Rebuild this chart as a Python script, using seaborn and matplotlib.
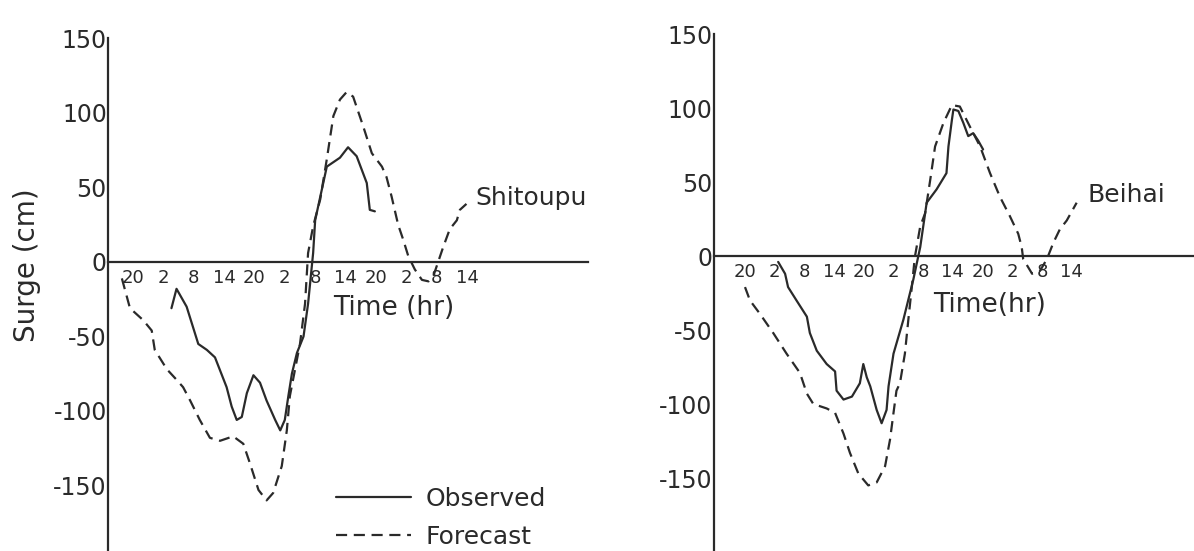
import matplotlib
matplotlib.use("Agg")
import matplotlib.pyplot as plt
import pandas as pd
import seaborn as sns

# ---------------- data (time in hours from 20h of day 0, surge in cm) -------------
tick_hours = [0, 6, 12, 18, 24, 30, 36, 42, 48, 54, 60, 66]
tick_labels = ["20", "2", "8", "14", "20", "2", "8", "14", "20", "2", "8", "14"]
y_ticks = [-150, -100, -50, 0, 50, 100, 150]
y_tick_labels = ["-150", "-100", "-50", "0", "50", "100", "150"]

shi_obs_t = [7.6, 8.6, 10.6, 12.9, 14.6, 16.2, 18.5, 19.5, 20.5, 21.5, 22.5, 23.8,
             25.1, 26.4, 28.1, 29.1, 30.0, 30.7, 31.4, 32.4, 33.7, 34.6, 35.6, 36.0,
             38.3, 40.9, 42.5, 44.2, 46.2, 46.8, 47.8]
shi_obs_v = [-31, -18, -30, -55, -59, -64, -84, -97, -106, -104, -88, -76,
             -81, -93, -106, -113, -106, -90, -75, -61, -50, -28, 6, 28,
             64, 70, 77, 71, 53, 35, 34]

shi_fc_t = [-2.2, -0.6, 2.0, 3.7, 4.3, 6.7, 8.6, 9.9, 11.3, 13.2, 15.2, 17.2, 19.8,
            21.8, 23.1, 24.8, 26.4, 27.7, 29.4, 30.4, 31.0, 33.0, 34.0, 34.6, 35.6,
            37.0, 38.3, 39.6, 40.9, 42.2, 43.5, 45.5, 47.2, 49.2, 50.1, 51.1, 52.4,
            53.4, 54.4, 55.7, 57.1, 58.4, 59.4, 60.3, 61.3, 62.6, 64.0, 64.6, 65.9]
shi_fc_v = [-11, -31, -39, -46, -59, -72, -79, -84, -93, -106, -118, -120, -117,
            -122, -135, -153, -160, -155, -137, -113, -90, -55, -28, 6, 24,
            42, 69, 98, 109, 114, 111, 91, 73, 64, 57, 44, 25,
            15, 4, -5, -12, -13, -9, 0, 10, 22, 28, 35, 39]

bei_obs_t = [6.7, 8.1, 8.7, 10.4, 12.5, 13.1, 14.5, 16.5, 18.2, 18.5, 19.9, 21.6,
             23.2, 23.9, 24.6, 25.3, 26.6, 27.6, 28.6, 29.0, 30.0, 32.0, 34.0, 35.4,
             36.7, 38.7, 40.7, 41.1, 41.8, 42.1, 43.1, 44.1, 45.1, 46.1, 47.1, 48.1]
bei_obs_v = [-4, -12, -21, -30, -41, -52, -64, -73, -78, -91, -97, -95,
             -86, -73, -82, -88, -104, -113, -104, -88, -66, -43, -16, 6,
             36, 45, 56, 74, 92, 99, 98, 90, 81, 83, 78, 72]

bei_fc_t = [0, 1.0, 3.0, 5.7, 8.4, 11.1, 12.5, 13.8, 16.5, 18.2, 19.9, 21.2, 22.9,
            24.9, 26.6, 28.3, 29.3, 30.0, 30.6, 31.3, 32.3, 33.0, 33.7, 34.3, 35.4,
            36.4, 37.4, 38.4, 40.1, 41.8, 43.4, 45.5, 47.5, 49.5, 51.5, 53.5, 55.2,
            55.9, 56.2, 58.0, 59.6, 61.0, 62.3, 63.6, 65.0, 67.0]
bei_fc_v = [-21, -30, -39, -52, -66, -79, -93, -100, -103, -106, -120, -133, -147,
            -155, -153, -142, -124, -106, -91, -86, -66, -43, -21, -1, 20,
            29, 51, 74, 90, 102, 101, 87, 74, 56, 40, 27, 15,
            6, -2, -12, -10, -2, 9, 18, 24, 36]

# ---------------- style ----------------
W, H = 1194, 551
sns.set_style("white")
plt.rcParams['font.family'] = ['DejaVu Sans']
plt.rcParams['axes.unicode_minus'] = False
INK = '#2a2a2a'
LW = 1.6

fig = plt.figure(figsize=(W / 100, H / 100), dpi=100)


def make_axes(x0, sx, y0, sy, xlim, ylim):
    left = (x0 + sx * xlim[0]) / W
    width = sx * (xlim[1] - xlim[0]) / W
    bottom = (H - (y0 - sy * ylim[0])) / H
    height = sy * (ylim[1] - ylim[0]) / H
    ax = fig.add_axes([left, bottom, width, height])
    ax.set_xlim(*xlim)
    ax.set_ylim(*ylim)
    ax.patch.set_alpha(0)
    return ax


def style_axes(ax, yaxis_t, xaxis_end, ybottom, yticks, ylabels):
    for s in ['top', 'right']:
        ax.spines[s].set_visible(False)
    ax.spines['left'].set_position(('data', yaxis_t))
    ax.spines['left'].set_bounds(ybottom, 150)
    ax.spines['bottom'].set_position(('data', 0))
    ax.spines['bottom'].set_bounds(yaxis_t, xaxis_end)
    for s in ['left', 'bottom']:
        ax.spines[s].set_color(INK)
        ax.spines[s].set_linewidth(1.6)
    ax.set_xticks(tick_hours)
    ax.set_xticklabels(tick_labels, fontsize=13, color=INK)
    ax.set_yticks(yticks)
    ax.set_yticklabels(ylabels, fontsize=17, color=INK)
    ax.tick_params(axis='x', direction='in', length=10, width=1.5, color=INK, pad=5)
    ax.tick_params(axis='y', direction='in', length=8, width=1.5, color=INK, pad=1)
    ax.set_xlabel("")
    ax.set_ylabel("")


def draw(ax, ot, ov, ft, fv, labels=False):
    obs = pd.DataFrame({"t": ot, "v": ov})
    fc = pd.DataFrame({"t": ft, "v": fv})
    kw_o = dict(label="Observed") if labels else {}
    kw_f = dict(label="Forecast") if labels else {}
    sns.lineplot(data=obs, x="t", y="v", ax=ax, color=INK, lw=LW,
                 sort=False, estimator=None, **kw_o)
    sns.lineplot(data=fc, x="t", y="v", ax=ax, color=INK, lw=LW,
                 sort=False, estimator=None, **kw_f)
    ax.lines[-1].set_dashes((5, 3))
    if ax.get_legend() is not None:
        ax.get_legend().remove()


# ---------------- left panel: Shitoupu ----------------
axL = make_axes(133, 5.06, 262, 1.49, (-8, 92), (-196, 155))
draw(axL, shi_obs_t, shi_obs_v, shi_fc_t, shi_fc_v, labels=True)
style_axes(axL, -4.9, 90, -196, y_ticks, y_tick_labels)
axL.text(39.6, -31, "Time (hr)", fontsize=19, color=INK, va='center', ha='left')
axL.text(67.6, 43, "Shitoupu", fontsize=18, color=INK, va='center', ha='left')
handles, labs = axL.get_legend_handles_labels()
axL.legend(handles, labs, loc='upper left', bbox_to_anchor=(336 / W, 1 - 487 / H),
           bbox_transform=fig.transFigure, frameon=False, borderpad=0,
           borderaxespad=0, handlelength=3.0, handletextpad=0.6,
           labelspacing=0.55, prop={'size': 18})
for txt in axL.get_legend().get_texts():
    txt.set_color(INK)

# ---------------- right panel: Beihai ----------------
axR = make_axes(745, 4.95, 256, 1.48, (-8, 92), (-200, 155))
draw(axR, bei_obs_t, bei_obs_v, bei_fc_t, bei_fc_v)
style_axes(axR, -6.3, 92, -200, y_ticks + [-200], y_tick_labels + [""])
axR.text(38.0, -33, "Time(hr)", fontsize=19, color=INK, va='center', ha='left')
axR.text(69.1, 41, "Beihai", fontsize=18, color=INK, va='center', ha='left')

fig.text(27 / W, 1 - 265 / H, "Surge (cm)", rotation=90, fontsize=20,
         color=INK, ha='center', va='center')

fig.savefig("out.png", dpi=100, facecolor='white')
